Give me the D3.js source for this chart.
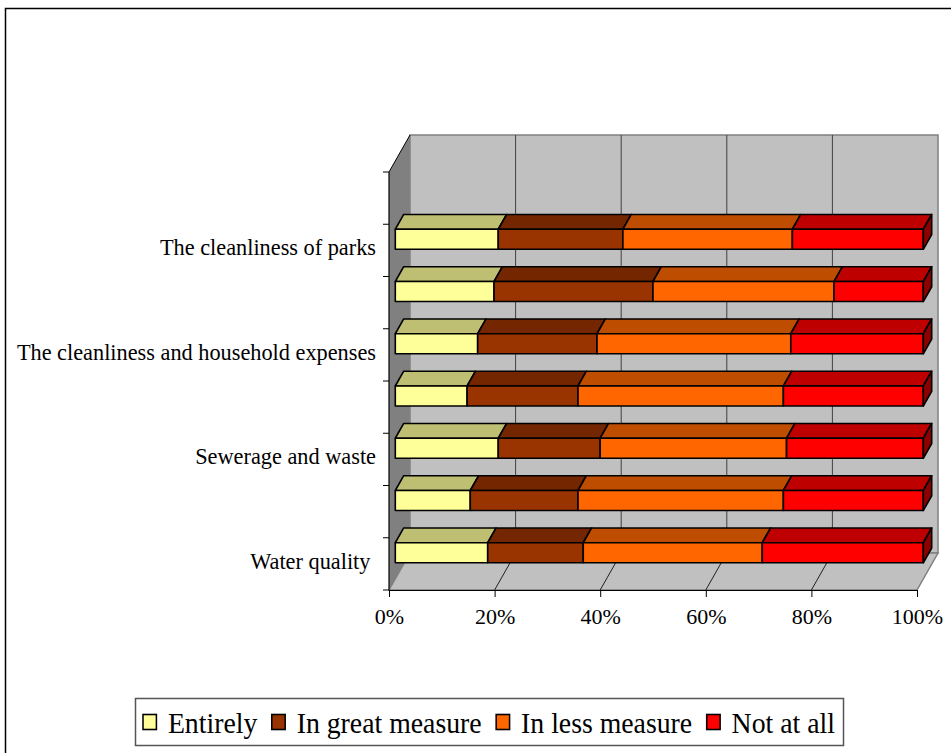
<!DOCTYPE html>
<html>
<head>
<meta charset="utf-8">
<script src="https://cdn.jsdelivr.net/npm/d3@7/dist/d3.min.js"></script>
<style>
  html, body { margin: 0; padding: 0; background: #fff; }
  svg { display: block; font-family: "Liberation Serif", "Times New Roman", serif; }
</style>
</head>
<body>
<svg id="chart" width="951" height="753"></svg>
<script>
// Categories from bottom to top; only every other one carries a visible label
const categoryLabels = ["Water quality ", "", "Sewerage and waste", "", "The cleanliness and household expenses", "", "The cleanliness of parks", ""];
const seriesNames = ["Entirely", "In great measure", "In less measure", "Not at all"];
const seriesColors = ["#FFFF99", "#993300", "#FF6600", "#FF0000"];

// Shares in percent per category (the top category has no answers)
const entirely       = [17.5, 14.2, 19.5, 13.6, 15.6, 18.7, 19.5, null];
const inGreatMeasure = [18.1, 20.4, 19.3, 21.0, 22.6, 30.1, 23.6, null];
const inLessMeasure  = [33.9, 38.9, 35.3, 38.9, 36.7, 34.3, 32.1, null];
const notAtAll       = [30.5, 26.5, 25.9, 26.5, 25.1, 16.9, 24.8, null];

const xTicks = [0, 20, 40, 60, 80, 100];

const svg = d3.select("#chart");

// outer chart frame
svg.append("rect")
  .attr("x", 5.5).attr("y", 8.5).attr("width", 1000).attr("height", 800)
  .attr("fill", "#fff").attr("stroke", "#000").attr("stroke-width", 1.5);

// plot geometry (front plane) and depth projection
const plot = { left: 389, right: 917, top: 172, bottom: 590 };
const depth = { dx: 21, dy: -37 };
const barDepthStart = 0.3, barDepthSize = 0.4, barThickness = 0.383;

const x = d3.scaleLinear().domain([0, 100]).range([plot.left, plot.right]);
const y = d3.scaleBand().domain(d3.range(categoryLabels.length))
  .range([plot.bottom, plot.top]).paddingInner(0).paddingOuter(0);

const line = d3.line();
const poly = pts => line(pts) + "Z";

// walls
const g = svg.append("g");
// back wall
g.append("path")
  .attr("d", poly([[plot.left + depth.dx, plot.top + depth.dy], [plot.right + depth.dx, plot.top + depth.dy],
                   [plot.right + depth.dx, plot.bottom + depth.dy], [plot.left + depth.dx, plot.bottom + depth.dy]]))
  .attr("fill", "#C0C0C0").attr("stroke", "#808080").attr("stroke-width", 1.5);
// floor
g.append("path")
  .attr("d", poly([[plot.left, plot.bottom], [plot.right, plot.bottom],
                   [plot.right + depth.dx, plot.bottom + depth.dy], [plot.left + depth.dx, plot.bottom + depth.dy]]))
  .attr("fill", "#C0C0C0").attr("stroke", "#808080").attr("stroke-width", 1.5);
// side wall
g.append("path")
  .attr("d", poly([[plot.left, plot.bottom], [plot.left, plot.top],
                   [plot.left + depth.dx, plot.top + depth.dy], [plot.left + depth.dx, plot.bottom + depth.dy]]))
  .attr("fill", "#808080").attr("stroke", "none");
g.append("path")
  .attr("d", line([[plot.left, plot.top], [plot.left + depth.dx, plot.top + depth.dy]]))
  .attr("stroke", "#000").attr("stroke-width", 1).attr("fill", "none");

// gridlines on back wall and floor
const grid = g.append("g");
xTicks.slice(1, -1).forEach(t => {
  grid.append("line")
    .attr("x1", x(t) + depth.dx).attr("x2", x(t) + depth.dx)
    .attr("y1", plot.top + depth.dy).attr("y2", plot.bottom + depth.dy)
    .attr("stroke", "#404040").attr("stroke-width", 1);
  grid.append("line")
    .attr("x1", x(t)).attr("y1", plot.bottom)
    .attr("x2", x(t) + depth.dx).attr("y2", plot.bottom + depth.dy)
    .attr("stroke", "#202020").attr("stroke-width", 1);
});

// bottom axis
const xAxis = d3.axisBottom(x).tickValues(xTicks).tickFormat(d => d + "%")
  .tickSize(7).tickPadding(11).tickSizeOuter(0);
const xg = svg.append("g").attr("transform", `translate(0,${plot.bottom})`).call(xAxis);
xg.select(".domain").attr("stroke", "#000").attr("stroke-width", 1.2);
xg.selectAll(".tick line").attr("stroke", "#000");
xg.selectAll(".tick text").attr("font-size", 22).attr("fill", "#000")
  .attr("font-family", "'Liberation Serif', 'Times New Roman', serif");

// left axis: ticks on band boundaries, labels centred in bands
const yg = svg.append("g");
yg.append("line").attr("x1", plot.left).attr("x2", plot.left)
  .attr("y1", plot.top).attr("y2", plot.bottom).attr("stroke", "#000").attr("stroke-width", 1.2);
const boundaries = y.domain().map(i => y(i) + y.bandwidth()).concat([y(y.domain().length - 1)]);
yg.selectAll("line.tick").data(boundaries).join("line").attr("class", "tick")
  .attr("x1", plot.left - 6).attr("x2", plot.left)
  .attr("y1", d => d).attr("y2", d => d).attr("stroke", "#000");
yg.selectAll("text").data(categoryLabels).join("text")
  .attr("x", plot.left - 13).attr("y", (d, i) => y(i) + y.bandwidth() / 2 - 3)
  .attr("dy", "0.35em").attr("text-anchor", "end").attr("font-size", 22.3)
  .style("white-space", "pre").attr("fill", "#000")
  .text(d => d);

// stacked 3D bars
const rows = categoryLabels.map((c, i) => ({
  i, v: [entirely[i], inGreatMeasure[i], inLessMeasure[i], notAtAll[i]]
}));
const stack = d3.stack().keys([0, 1, 2, 3]).value((d, k) => d.v[k] == null ? 0 : d.v[k]);
const stacked = stack(rows);

const shade = (c, f) => { const r = d3.rgb(c); return d3.rgb(r.r * f, r.g * f, r.b * f).formatHex(); };
const fx = depth.dx * barDepthStart, fy = depth.dy * barDepthStart;
const bx = depth.dx * barDepthSize, by = depth.dy * barDepthSize;
const barsG = svg.append("g").attr("stroke", "#000").attr("stroke-width", 1.6).attr("stroke-linejoin", "round");

rows.forEach(row => {
  if (row.v.every(v => v == null)) return;
  const bandMid = y(row.i) + y.bandwidth() / 2;
  const h = y.bandwidth() * barThickness;
  const yTop = bandMid - h / 2 + fy, yBot = bandMid + h / 2 + fy;
  stacked.forEach((layer, k) => {
    const seg = layer[row.i];
    const x0 = x(seg[0]) + fx, x1 = x(seg[1]) + fx;
    if (x1 - x0 <= 0) return;
    // top face
    barsG.append("path")
      .attr("d", poly([[x0, yTop], [x1, yTop], [x1 + bx, yTop + by], [x0 + bx, yTop + by]]))
      .attr("fill", shade(seriesColors[k], 0.75));
    // front face
    barsG.append("path")
      .attr("d", poly([[x0, yTop], [x1, yTop], [x1, yBot], [x0, yBot]]))
      .attr("fill", seriesColors[k]);
    // right end face of the last segment
    if (k === stacked.length - 1) {
      barsG.append("path")
        .attr("d", poly([[x1, yTop], [x1 + bx, yTop + by], [x1 + bx, yBot + by], [x1, yBot]]))
        .attr("fill", shade(seriesColors[k], 0.55));
    }
  });
});

// legend
const legend = { x: 135, y: 698, w: 708, h: 47 };
const lg = svg.append("g");
lg.append("rect").attr("x", legend.x + 0.5).attr("y", legend.y + 0.5)
  .attr("width", legend.w).attr("height", legend.h)
  .attr("fill", "#fff").attr("stroke", "#555").attr("stroke-width", 1.5);
const itemsG = lg.append("g");
let cx = 0;
seriesNames.forEach((name, k) => {
  const it = itemsG.append("g").attr("transform", `translate(${cx},0)`);
  it.append("rect").attr("x", 0).attr("y", -8).attr("width", 14).attr("height", 15)
    .attr("fill", seriesColors[k]).attr("stroke", "#000").attr("stroke-width", 1.6);
  const t = it.append("text").attr("x", 26).attr("y", 0).attr("dy", "0.35em")
    .attr("font-size", 29).attr("fill", "#000").text(name);
  cx += 26 + t.node().getComputedTextLength() + 15;
});
// fit the legend entries horizontally inside the box
const contentW = cx - 15;
const sx = (legend.w - 16) / contentW;
itemsG.attr("transform", `translate(${legend.x + 8},${legend.y + legend.h / 2 + 1}) scale(${sx},1)`);
</script>
</body>
</html>
